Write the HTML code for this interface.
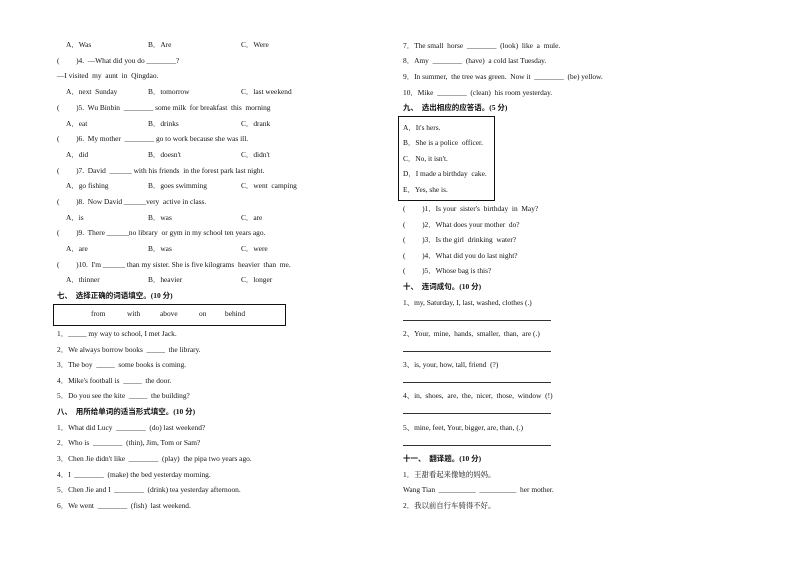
<!DOCTYPE html>
<html><head><meta charset="utf-8"><style>
body{margin:0;width:794px;height:562px;background:#fff;position:relative;overflow:hidden;font-family:"Liberation Serif","Noto Serif CJK SC","Noto Sans CJK SC",serif;font-size:7.4px;color:#111}
.t{position:absolute;white-space:pre;line-height:10px}
.h{font-family:"Liberation Serif","Noto Sans CJK SC",sans-serif;font-weight:bold;font-size:7.5px}
.box{position:absolute;border:1.3px solid #111}
.ln{position:absolute;height:0;border-top:1px solid #333}
</style></head><body>
<div class="t" style="left:66px;top:40px">A．Was</div><div class="t" style="left:148px;top:40px">B．Are</div><div class="t" style="left:241px;top:40px">C．Were</div>
<div class="t" style="left:57px;top:56px">(         )4.  —What did you do ________?</div>
<div class="t" style="left:57px;top:71px">—I visited  my  aunt  in  Qingdao.</div>
<div class="t" style="left:66px;top:87px">A．next  Sunday</div><div class="t" style="left:148px;top:87px">B．tomorrow</div><div class="t" style="left:241px;top:87px">C．last weekend</div>
<div class="t" style="left:57px;top:103px">(         )5.  Wu Binbin  ________ some milk  for breakfast  this  morning</div>
<div class="t" style="left:66px;top:119px">A．eat</div><div class="t" style="left:148px;top:119px">B．drinks</div><div class="t" style="left:241px;top:119px">C．drank</div>
<div class="t" style="left:57px;top:134px">(         )6.  My mother  ________ go to work because she was ill.</div>
<div class="t" style="left:66px;top:150px">A．did</div><div class="t" style="left:148px;top:150px">B．doesn't</div><div class="t" style="left:241px;top:150px">C．didn't</div>
<div class="t" style="left:57px;top:166px">(         )7.  David  ______ with his friends  in the forest park last night.</div>
<div class="t" style="left:66px;top:181px">A．go fishing</div><div class="t" style="left:148px;top:181px">B．goes swimming</div><div class="t" style="left:241px;top:181px">C．went  camping</div>
<div class="t" style="left:57px;top:197px">(         )8.  Now David ______very  active in class.</div>
<div class="t" style="left:66px;top:213px">A．is</div><div class="t" style="left:148px;top:213px">B．was</div><div class="t" style="left:241px;top:213px">C．are</div>
<div class="t" style="left:57px;top:228px">(         )9.  There ______no library  or gym in my school ten years ago.</div>
<div class="t" style="left:66px;top:244px">A．are</div><div class="t" style="left:148px;top:244px">B．was</div><div class="t" style="left:241px;top:244px">C．were</div>
<div class="t" style="left:57px;top:260px">(         )10.  I'm ______ than my sister. She is five kilograms  heavier  than  me.</div>
<div class="t" style="left:66px;top:275px">A．thinner</div><div class="t" style="left:148px;top:275px">B．heavier</div><div class="t" style="left:241px;top:275px">C．longer</div>
<div class="t h" style="left:57px;top:291px">七、  选择正确的词语填空。(10 分)</div>
<div class="box" style="left:53px;top:304px;width:231px;height:20px"></div>
<div class="t" style="left:91px;top:309px">from</div><div class="t" style="left:127px;top:309px">with</div><div class="t" style="left:160px;top:309px">above</div><div class="t" style="left:199px;top:309px">on</div><div class="t" style="left:225px;top:309px">behind</div>
<div class="t" style="left:57px;top:329px">1．_____ my way to school, I met Jack.</div>
<div class="t" style="left:57px;top:345px">2．We always borrow books  _____  the library.</div>
<div class="t" style="left:57px;top:360px">3．The boy  _____  some books is coming.</div>
<div class="t" style="left:57px;top:376px">4．Mike's football is  _____  the door.</div>
<div class="t" style="left:57px;top:391px">5．Do you see the kite  _____  the building?</div>
<div class="t h" style="left:57px;top:407px">八、  用所给单词的适当形式填空。(10 分)</div>
<div class="t" style="left:57px;top:423px">1．What did Lucy  ________  (do) last weekend?</div>
<div class="t" style="left:57px;top:438px">2．Who is  ________  (thin), Jim, Tom or Sam?</div>
<div class="t" style="left:57px;top:454px">3．Chen Jie didn't like  ________  (play)  the pipa two years ago.</div>
<div class="t" style="left:57px;top:470px">4．I  ________  (make) the bed yesterday morning.</div>
<div class="t" style="left:57px;top:485px">5．Chen Jie and I  ________  (drink) tea yesterday afternoon.</div>
<div class="t" style="left:57px;top:501px">6．We went  ________  (fish)  last weekend.</div>

<div class="t" style="left:403px;top:41px">7．The small  horse  ________  (look)  like  a  mule.</div>
<div class="t" style="left:403px;top:56px">8．Amy  ________  (have)  a cold last Tuesday.</div>
<div class="t" style="left:403px;top:72px">9．In summer,  the tree was green.  Now it  ________  (be) yellow.</div>
<div class="t" style="left:403px;top:88px">10．Mike  ________  (clean)  his room yesterday.</div>
<div class="t h" style="left:403px;top:103px">九、  选出相应的应答语。(5 分)</div>
<div class="box" style="left:398px;top:116px;width:95px;height:83px"></div>
<div class="t" style="left:403px;top:123px">A．It's hers.</div>
<div class="t" style="left:403px;top:138px">B．She is a police  officer.</div>
<div class="t" style="left:403px;top:154px">C．No, it isn't.</div>
<div class="t" style="left:403px;top:169px">D．I made a birthday  cake.</div>
<div class="t" style="left:403px;top:185px">E．Yes, she is.</div>
<div class="t" style="left:403px;top:204px">(         )1．Is your  sister's  birthday  in  May?</div>
<div class="t" style="left:403px;top:220px">(         )2．What does your mother  do?</div>
<div class="t" style="left:403px;top:235px">(         )3．Is the girl  drinking  water?</div>
<div class="t" style="left:403px;top:251px">(         )4．What did you do last night?</div>
<div class="t" style="left:403px;top:266px">(         )5．Whose bag is this?</div>
<div class="t h" style="left:403px;top:282px">十、  连词成句。(10 分)</div>
<div class="t" style="left:403px;top:298px">1、my, Saturday, I, last, washed, clothes (.)</div>
<div class="ln" style="left:403px;top:320px;width:148px"></div>
<div class="t" style="left:403px;top:329px">2、Your,  mine,  hands,  smaller,  than,  are (.)</div>
<div class="ln" style="left:403px;top:351px;width:148px"></div>
<div class="t" style="left:403px;top:360px">3、is, your, how, tall, friend  (?)</div>
<div class="ln" style="left:403px;top:382px;width:148px"></div>
<div class="t" style="left:403px;top:391px">4、in,  shoes,  are,  the,  nicer,  those,  window  (!)</div>
<div class="ln" style="left:403px;top:413px;width:148px"></div>
<div class="t" style="left:403px;top:423px">5、mine, feet, Your, bigger, are, than, (.)</div>
<div class="ln" style="left:403px;top:445px;width:148px"></div>
<div class="t h" style="left:403px;top:454px">十一、  翻译题。(10 分)</div>
<div class="t" style="left:403px;top:470px">1．王甜看起来像她的妈妈。</div>
<div class="t" style="left:403px;top:485px">Wang Tian  __________  __________  her mother.</div>
<div class="t" style="left:403px;top:501px">2．我以前自行车骑得不好。</div>
</body></html>
